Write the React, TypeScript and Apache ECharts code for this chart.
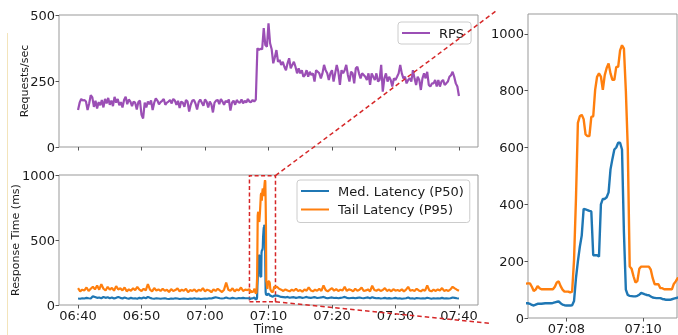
import React, { useEffect, useRef } from 'react';
import * as echarts from 'echarts';

// ---- time is in minutes after midnight (400 = 06:40) ----
const rpsStart = 400;
const rpsStep = 0.25; // 15 s
const rpsBefore = [
  140, 168, 182, 176, 178, 172, 140, 165, 196, 188,
  152, 175, 146, 170, 158, 178, 150, 182, 165, 186,
  160, 176, 155, 190, 168, 182, 158, 170, 150, 178,
  190, 162, 180, 172, 155, 172, 168, 142, 170, 176,
  122, 108, 168, 150, 172, 162, 176, 140, 168, 184,
  176, 162, 170, 175, 182, 160, 168, 172, 178, 165,
  182, 176, 160, 175, 148, 172, 168, 152, 178, 172,
  134, 160, 176, 178, 165, 142, 170, 180, 168, 156,
  180, 172, 150, 172, 162, 131, 168, 176, 178, 162,
  182, 172, 160, 175, 170, 180, 138, 168, 176, 160,
  178, 170, 168, 180, 165, 175, 168, 182, 172, 170,
  178, 172, 180,
];
const rpsAfter = [
  374, 368, 372, 370, 450, 386, 380, 468, 393, 370,
  317, 340, 367, 323, 330, 311, 323, 304, 291, 317,
  336, 298, 311, 323, 304, 279, 298, 279, 291, 266,
  273, 291, 266, 285, 273, 279, 248, 291, 285, 279,
  260, 279, 311, 291, 279, 254, 279, 291, 248, 279,
  311, 285, 235, 291, 279, 291, 311, 273, 248, 285,
  279, 241, 298, 304, 279, 260, 279, 273, 266, 254,
  279, 235, 279, 266, 254, 279, 248, 254, 311, 210,
  260, 279, 248, 266, 254, 229, 260, 254, 266, 279,
  311, 279, 260, 266, 241, 254, 260, 248, 291, 260,
  235, 266, 254, 216, 260, 279, 260, 285, 235, 229,
  241, 241, 254, 229, 254, 229, 248, 254, 235, 241,
  248, 266, 272, 285, 266, 241, 229, 193,
];

const latBeforeStart = 400; // 06:40:00, 20 s step
const latStep = 1 / 3;
const p95Before = [
  130, 105, 118, 112, 135, 108, 125, 140, 120, 150,
  118, 160, 125, 112, 140, 118, 132, 110, 145, 120,
  128, 112, 135, 105, 120, 110, 128, 115, 140, 118,
  108, 125, 112, 160, 118, 105, 130, 112, 120, 108,
  125, 110, 118, 100, 122, 108, 115, 128, 105, 118,
  110, 125, 98, 115, 108, 120, 102, 118, 110, 130,
  105, 118, 112, 98, 120, 108, 125, 112, 100, 118,
  172, 118, 110, 128, 105, 120, 112, 135, 108, 118,
  115,
];
const p50Before = [
  50, 48, 52, 50, 55, 52, 50, 68, 62, 55,
  58, 52, 62, 55, 60, 52, 58, 50, 55, 62,
  55, 50, 58, 52, 48, 55, 50, 52, 48, 55,
  50, 58, 52, 62, 55, 50, 48, 52, 50, 48,
  50, 52, 48, 46, 50, 48, 52, 50, 46, 48,
  50, 48, 46, 50, 48, 52, 48, 50, 46, 48,
  50, 48, 52, 50, 55, 60, 56, 52, 50, 52,
  58, 52, 50, 55, 52, 50, 54, 52, 55, 52,
  52,
];

const spikeStart = 427; // 07:07:00, 3 s step
const spikeStep = 0.05;
const p95Spike = [
  122, 122, 110, 95, 100, 112, 105, 101, 101, 101,
  101, 101, 101, 101, 110, 125, 129, 112, 100, 93,
  93, 93, 90, 93, 205, 420, 687, 710, 715, 700,
  646, 640, 640, 708, 710, 803, 849, 861, 850, 803,
  855, 880, 896, 861, 838, 838, 884, 884, 942, 960,
  948, 800, 600, 181, 173, 147, 125, 130, 173, 181,
  181, 181, 181, 181, 170, 140, 119, 119, 119, 105,
  105, 101, 101, 101, 101, 101, 120, 129, 140, 140,
  140,
];
const p50Spike = [
  52, 50, 46, 44, 47, 50, 50, 50, 51, 52,
  52, 52, 52, 53, 55, 57, 58, 52, 47, 45,
  44, 44, 44, 45, 60, 140, 199, 250, 290, 384,
  382, 380, 377, 375, 221, 221, 221, 216, 400, 419,
  419, 425, 442, 523, 560, 593, 600, 617, 617, 593,
  300, 100, 81, 78, 77, 76, 76, 78, 82, 88,
  86, 83, 81, 80, 76, 72, 71, 70, 70, 70,
  67, 66, 64, 64, 64, 66, 68, 70, 72, 72,
  72,
];

const latAfterStart = 431 + 1 / 3; // 07:11:20, 20 s step
const p95After = [
  140, 125, 118, 108, 120, 112, 105, 118, 110, 125,
  108, 115, 102, 120, 110, 135, 112, 105, 118, 110,
  125, 108, 150, 115, 105, 118, 130, 110, 122, 108,
  118, 112, 140, 108, 120, 115, 105, 125, 110, 118,
  135, 108, 112, 120, 105, 148, 115, 110, 120, 108,
  115, 130, 108, 118, 105, 122, 110, 115, 108, 120,
  105, 118, 140, 110, 115, 108, 125, 112, 105, 118,
  110, 150, 112, 105, 118, 108, 120, 112, 130, 108,
  115, 108, 120, 140, 128, 118, 110,
];
const p50After = [
  72, 68, 62, 60, 58, 62, 56, 58, 60, 55,
  58, 60, 55, 58, 62, 56, 55, 58, 60, 54,
  56, 58, 62, 55, 52, 56, 58, 54, 56, 52,
  55, 58, 62, 55, 52, 54, 56, 52, 55, 58,
  54, 52, 56, 58, 52, 60, 55, 52, 54, 50,
  52, 55, 50, 53, 50, 52, 55, 50, 52, 48,
  50, 52, 58, 50, 52, 48, 54, 52, 50, 52,
  50, 56, 52, 48, 52, 50, 52, 50, 55, 50,
  52, 50, 52, 58, 55, 52, 50,
];

// axes
const mainXMin = 397;
const mainXMax = 463;
const mainXTicks = [400, 410, 420, 430, 440, 450, 460];
const zoomXMin = 427;
const zoomXMax = 430.883;
const zoomXTicks = [428, 430];
const rpsYTicks = [0, 250, 500];
const latYTicks = [0, 500, 1000];
const zoomYMax = 1070;
const zoomYTicks = [0, 200, 400, 600, 800, 1000];
// highlighted window in the latency panel
const boxX = [427, 431.1];
const boxY = [25, 995];

const FONT = 'DejaVu Sans';
const seq = (vals: number[], start: number, step: number) =>
  vals.map((v, i) => [start + i * step, v]);
const fmtTime = (v: number) => {
  const h = Math.floor(v / 60 + 1e-9);
  const m = Math.round(v - h * 60);
  return String(h).padStart(2, '0') + ':' + String(m).padStart(2, '0');
};

export default function App() {
  const ref = useRef<HTMLDivElement>(null);
  useEffect(() => {
    if (!ref.current) return;
    const chart = echarts.init(ref.current, undefined, { renderer: 'svg' });
    const rpsData = [
      ...seq(rpsBefore, rpsStart, rpsStep),
      ...seq(rpsAfter, rpsStart + rpsBefore.length * rpsStep, rpsStep),
    ];
    const p50Data = [
      ...seq(p50Before, latBeforeStart, latStep),
      ...seq(p50Spike, spikeStart, spikeStep),
      ...seq(p50After, latAfterStart, latStep),
    ];
    const p95Data = [
      ...seq(p95Before, latBeforeStart, latStep),
      ...seq(p95Spike, spikeStart, spikeStep),
      ...seq(p95After, latAfterStart, latStep),
    ];
    const border = '#999';
    const tickCol = '#555';
    const labelStyle = { fontFamily: FONT, fontSize: 13, color: '#1a1a1a' };
    const xAxisBase = (min: number, max: number, ticks: number[], showLabel: boolean, gridIndex: number) => ({
      type: 'value', gridIndex, min, max,
      axisLine: { show: false },
      splitLine: { show: false },
      axisTick: { show: true, length: 3.5, customValues: ticks, lineStyle: { color: tickCol } },
      axisLabel: { show: showLabel, customValues: ticks, formatter: fmtTime, margin: 4, ...labelStyle },
    });
    const yAxisBase = (min: number, max: number, ticks: number[], gridIndex: number) => ({
      type: 'value', gridIndex, min, max,
      axisLine: { show: false },
      splitLine: { show: false },
      axisTick: { show: true, length: 3.5, customValues: ticks, lineStyle: { color: tickCol } },
      axisLabel: { customValues: ticks, margin: 4, formatter: (v: number) => String(v), ...labelStyle },
    });
    const legendBase = {
      orient: 'vertical', icon: 'rect', itemWidth: 28, itemHeight: 2,
      selectedMode: false,
      borderColor: '#cccccc', borderWidth: 1, borderRadius: 3,
      backgroundColor: 'rgba(255,255,255,0.85)',
      textStyle: { fontFamily: FONT, fontSize: 13, color: '#1a1a1a', lineHeight: 14, padding: [0, 0, 0, 4] },
    };
    chart.setOption({
      animation: false,
      grid: [
        { left: 59, top: 15, width: 419, height: 132, show: true, borderColor: border, borderWidth: 1 },
        { left: 59, top: 175, width: 419, height: 130, show: true, borderColor: border, borderWidth: 1 },
        { left: 528, top: 14, width: 149, height: 306, show: true, borderColor: border, borderWidth: 1 },
      ],
      xAxis: [
        xAxisBase(mainXMin, mainXMax, mainXTicks, false, 0),
        xAxisBase(mainXMin, mainXMax, mainXTicks, true, 1),
        xAxisBase(zoomXMin, zoomXMax, zoomXTicks, true, 2),
      ],
      yAxis: [
        yAxisBase(0, 500, rpsYTicks, 0),
        yAxisBase(0, 1000, latYTicks, 1),
        yAxisBase(0, zoomYMax, zoomYTicks, 2),
      ],
      legend: [
        { ...legendBase, data: ['RPS'], left: 398, top: 22, padding: [4, 7, 4, 4] },
        {
          ...legendBase, data: ['Med. Latency (P50)', 'Tail Latency (P95)'],
          left: 297, top: 180, padding: [4, 6, 6, 4], itemGap: 4.5,
        },
      ],
      series: [
        {
          name: 'RPS', type: 'line', xAxisIndex: 0, yAxisIndex: 0, data: rpsData,
          symbol: 'none', color: '#9b4fb5', lineStyle: { width: 2.2, color: '#9b4fb5' },
        },
        {
          name: 'Med. Latency (P50)', type: 'line', xAxisIndex: 1, yAxisIndex: 1, data: p50Data,
          symbol: 'none', color: '#1f77b4', lineStyle: { width: 2.2, color: '#1f77b4' },
        },
        {
          name: 'Tail Latency (P95)', type: 'line', xAxisIndex: 1, yAxisIndex: 1, data: p95Data,
          symbol: 'none', color: '#ff7f0e', lineStyle: { width: 2.2, color: '#ff7f0e' },
          markArea: {
            silent: true,
            itemStyle: { color: 'rgba(0,0,0,0)', borderColor: '#d62728', borderWidth: 1.5, borderType: [4, 2.5] },
            data: [[{ coord: [boxX[0], boxY[0]] }, { coord: [boxX[1], boxY[1]] }]],
          },
        },
        {
          name: 'Med. Latency (P50)', type: 'line', xAxisIndex: 2, yAxisIndex: 2, data: p50Data,
          symbol: 'none', color: '#1f77b4', lineStyle: { width: 2.4, color: '#1f77b4' },
        },
        {
          name: 'Tail Latency (P95)', type: 'line', xAxisIndex: 2, yAxisIndex: 2, data: p95Data,
          symbol: 'none', color: '#ff7f0e', lineStyle: { width: 2.4, color: '#ff7f0e' },
        },
      ],
    });
    const tr = chart.convertToPixel({ gridIndex: 1 }, [boxX[1], boxY[1]]) as number[];
    const br = chart.convertToPixel({ gridIndex: 1 }, [boxX[1], boxY[0]]) as number[];
    const dashStyle = { stroke: '#d62728', lineWidth: 1.5, lineDash: [4.5, 3] };
    const txt = (text: string, x: number, y: number, size: number, rot: number) => ({
      type: 'text', x, y, rotation: rot, z: 50,
      style: {
        text, fill: '#1a1a1a', font: `${size}px "${FONT}"`,
        textAlign: 'center', textVerticalAlign: 'middle', align: 'center', verticalAlign: 'middle',
      },
    });
    chart.setOption({
      graphic: [
        { type: 'line', z: 1, shape: { x1: 7.5, y1: 33, x2: 7.5, y2: 335 }, style: { stroke: '#f3e4bb', lineWidth: 1 } },
        txt('Requests/sec', 24, 81, 11, Math.PI / 2),
        txt('Response Time (ms)', 15, 240, 11, Math.PI / 2),
        txt('Time', 268.5, 329, 12, 0),
        { type: 'line', z: 100, shape: { x1: tr[0], y1: tr[1], x2: 496, y2: 11 }, style: dashStyle },
        { type: 'line', z: 100, shape: { x1: br[0], y1: br[1], x2: 491, y2: 323.5 }, style: dashStyle },
      ],
    });
    return () => chart.dispose();
  }, []);
  return <div ref={ref} style={{ position: 'fixed', left: 0, top: 0, width: 678, height: 335 }} />;
}
